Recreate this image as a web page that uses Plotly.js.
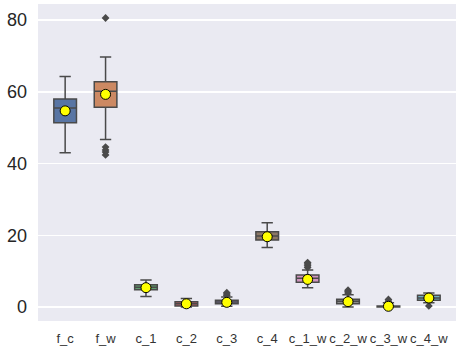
<!DOCTYPE html>
<html>
<head>
<meta charset="utf-8">
<script src="https://cdn.plot.ly/plotly-3.0.1.min.js"></script>
<style>html,body{margin:0;padding:0;background:#fff;}#chart{width:463px;height:354px;}</style>
</head>
<body>
<div id="chart"></div>
<script>
const categories = ['f_c','f_w','c_1','c_2','c_3','c_4','c_1_w','c_2_w','c_3_w','c_4_w'];
const q1Values     = [51.4, 55.7, 4.8, 0.3, 0.9, 18.7, 6.9, 0.9, 0.0, 1.9];
const medianValues = [55.5, 60.2, 5.5, 0.9, 1.4, 19.8, 8.0, 1.6, 0.1, 2.5];
const q3Values     = [58.0, 62.8, 6.2, 1.5, 1.9, 21.0, 8.9, 2.2, 0.3, 3.3];
const lowerWhisker = [43.0, 46.7, 2.9, 0.0, 0.2, 16.6, 5.4, 0.0, 0.0, 1.2];
const upperWhisker = [64.3, 69.7, 7.5, 2.4, 2.8, 23.5, 10.3, 3.4, 1.2, 3.9];
const meanValues   = [54.7, 59.3, 5.4, 0.9, 1.3, 19.6, 7.7, 1.5, 0.2, 2.5];
const outlierCats   = ['f_w','f_w','f_w','f_w','f_w','c_3','c_3','c_3','c_1_w','c_1_w','c_1_w','c_1_w','c_2_w','c_2_w','c_2_w','c_3_w','c_3_w','c_4_w'];
const outlierValues = [80.6, 44.6, 43.8, 43.2, 42.4, 3.2, 3.6, 4.0, 11.0, 11.5, 12.0, 12.4, 3.9, 4.3, 4.7, 1.6, 2.1, 0.3];
const yTickValues = [0, 20, 40, 60, 80];

const boxColors = ['#5875a4','#cc8963','#5f9e6e','#b55d60','#857aab','#8d7866','#d095bf','#8c8c8c','#c1b37f','#71aec0'];
const lineGray = '#4a4a4a';

const traces = categories.map((c, i) => ({
  type: 'box',
  x: [c],
  q1: [q1Values[i]],
  median: [medianValues[i]],
  q3: [q3Values[i]],
  lowerfence: [lowerWhisker[i]],
  upperfence: [upperWhisker[i]],
  fillcolor: boxColors[i],
  line: {color: lineGray, width: 1.5},
  whiskerwidth: 0.5,
  boxpoints: false,
  showlegend: false,
  hoverinfo: 'skip'
}));

traces.push({
  type: 'scatter', mode: 'markers',
  x: outlierCats, y: outlierValues,
  marker: {symbol: 'diamond', size: 6, color: lineGray},
  showlegend: false, hoverinfo: 'skip'
});
traces.push({
  type: 'scatter', mode: 'markers',
  x: categories, y: meanValues,
  marker: {symbol: 'circle', size: 10, color: '#ffff00', line: {color: '#000000', width: 1}},
  showlegend: false, hoverinfo: 'skip'
});

const layout = {
  width: 463, height: 354,
  margin: {l: 38, r: 7, t: 4, b: 33},
  paper_bgcolor: '#ffffff',
  plot_bgcolor: '#eaeaf2',
  boxmode: 'overlay',
  boxgap: 0.2,
  showlegend: false,
  xaxis: {
    type: 'category',
    categoryorder: 'array',
    categoryarray: categories,
    showgrid: false, zeroline: false, showline: false,
    ticks: '', ticklabelstandoff: 8, tickangle: 0,
    tickfont: {family: 'Liberation Sans, Arial, sans-serif', size: 13, color: '#333333'}
  },
  yaxis: {
    range: [-3.9, 84.5],
    tickvals: yTickValues,
    ticktext: yTickValues.map(String),
    showgrid: true, gridcolor: '#ffffff', gridwidth: 1.5,
    zeroline: false, showline: false,
    ticks: '', ticklabelstandoff: 10,
    tickfont: {family: 'Liberation Sans, Arial, sans-serif', size: 18, color: '#262626'}
  }
};

Plotly.newPlot('chart', traces, layout, {staticPlot: true, displayModeBar: false});
</script>
</body>
</html>
